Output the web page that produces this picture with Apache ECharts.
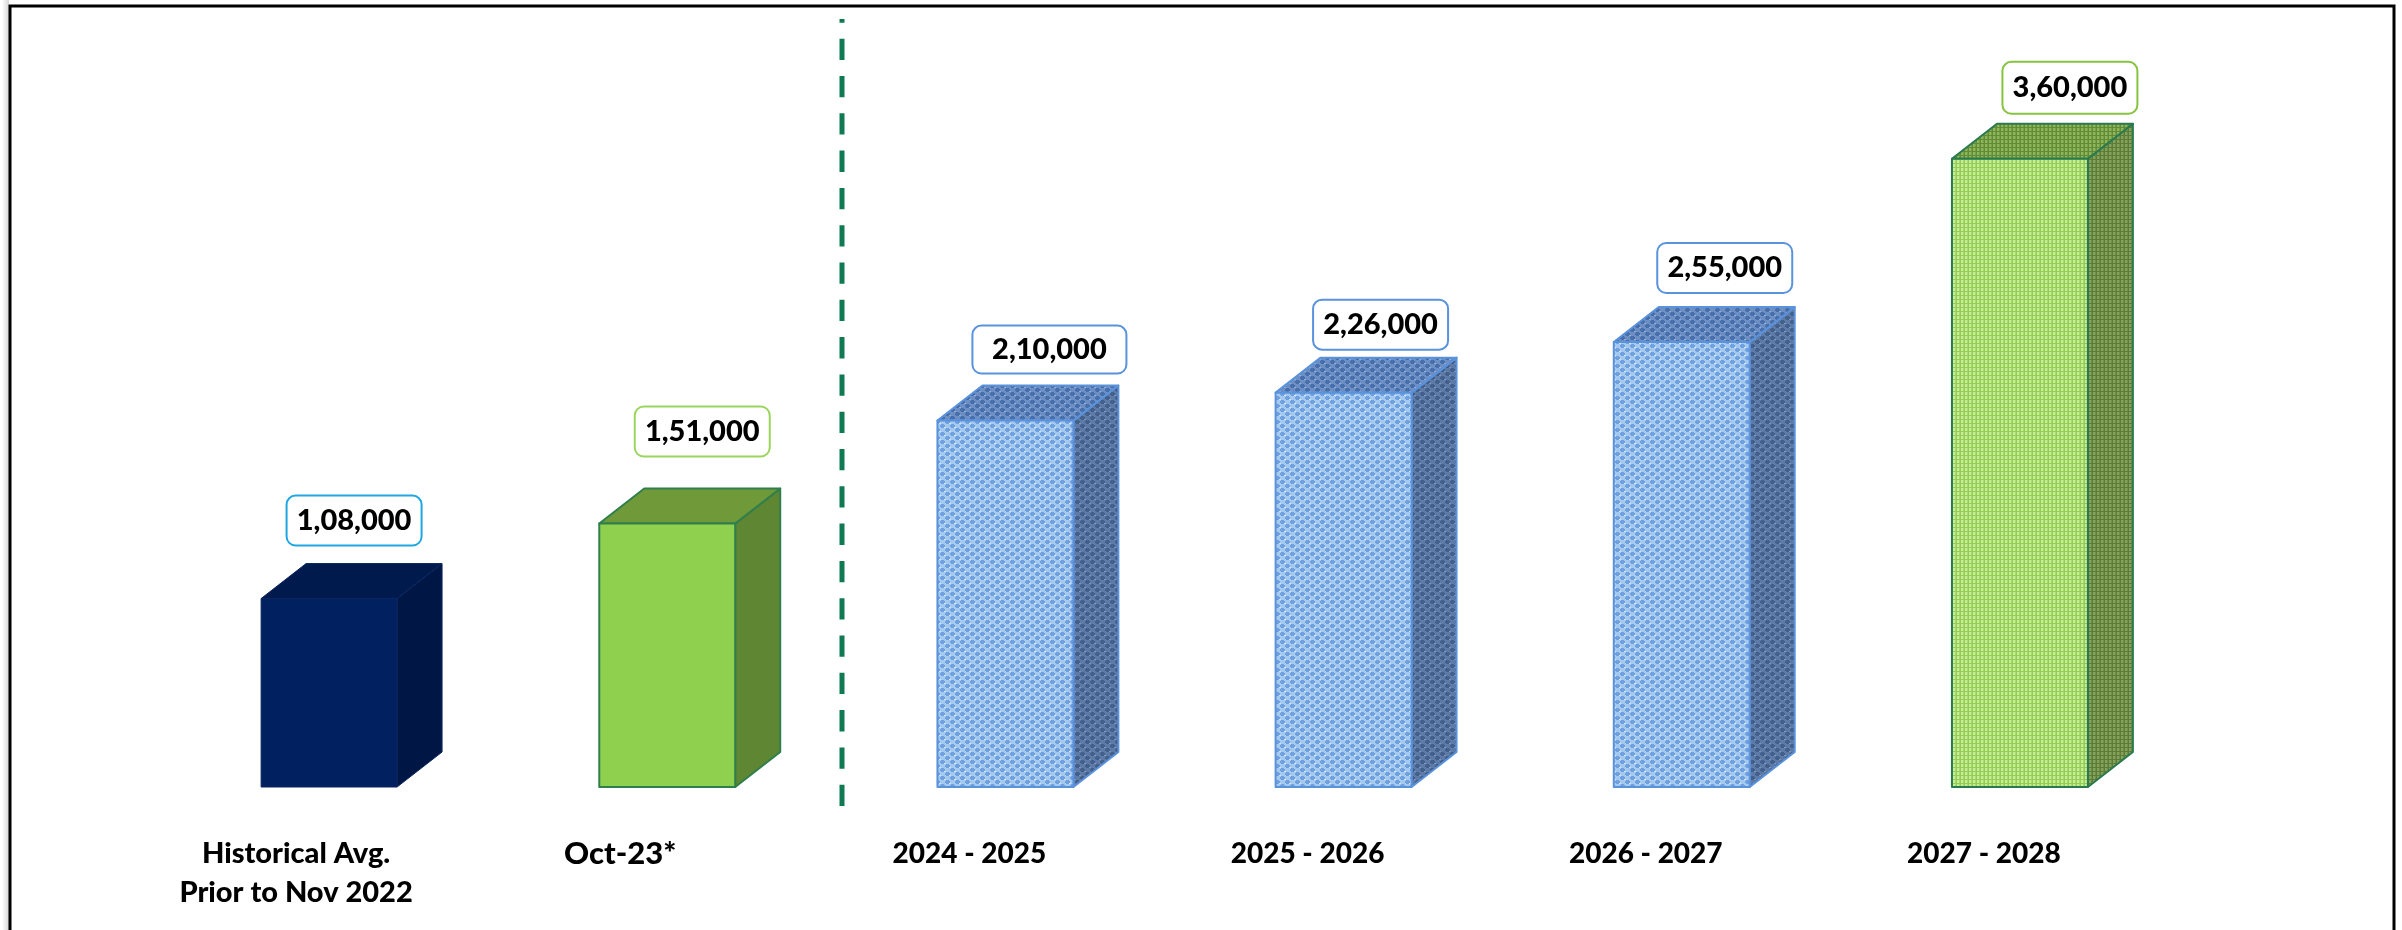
<!DOCTYPE html>
<html>
<head>
<meta charset="utf-8">
<style>html,body{margin:0;padding:0;background:#fff}#chart{width:2402px;height:930px}</style>
<script src="https://cdn.jsdelivr.net/npm/echarts@6/dist/echarts.min.js"></script>
</head>
<body>
<div id="chart"></div>
<script>
// Demand by period: first two bars are observed, the rest are projections.
const categories = ['Historical Avg.\nPrior to Nov 2022', 'Oct-23*', '2024 - 2025', '2025 - 2026', '2026 - 2027', '2027 - 2028'];
const values = [108000, 151000, 210000, 226000, 255000, 360000];

// Appearance of each bar: which face set it uses and its callout border.
const barLooks = ['navy', 'green', 'blueWeave', 'blueWeave', 'blueWeave', 'greenWeave'];
const calloutBorders = ['#1fa7e1', '#9ad65c', '#5a92dc', '#5a92dc', '#5a92dc', '#86c440'];
// Callout placement relative to the top centre of the bar's front face: [dx, dy, width, height].
const calloutLayout = [
  [25, -78, 135, 50], [35, -92, 135, 50], [44, -71, 154, 48],
  [37, -68, 135, 50], [43, -74, 135, 50], [50, -71, 135, 52]
];
// Horizontal nudge of each category caption from its band centre, and its type size.
const captionShift = [-33, -47, -36, -36, -36, -36];
const captionSize = [29, 31, 28, 28, 28, 28];

// Small repeating tile used as the woven fill of the forecast bars.
function weaveTile(base, dark, light, kind) {
  const c = document.createElement('canvas');
  c.width = kind === 'diamond' ? 10 : 4;
  c.height = 8;
  const g = c.getContext('2d');
  g.fillStyle = base;
  g.fillRect(0, 0, c.width, c.height);
  if (kind === 'diamond') {
    g.fillStyle = dark;
    [[0, 0], [5, 4]].forEach(p => {
      g.fillRect(p[0] + 1, p[1], 3, 1);
      g.fillRect(p[0], p[1] + 1, 5, 2);
      g.fillRect(p[0] + 1, p[1] + 3, 3, 1);
    });
    g.fillStyle = light;
    g.fillRect(4, 3, 2, 1);
    g.fillRect(9, 7, 1, 1);
    g.fillRect(0, 7, 1, 1);
  } else {
    g.fillStyle = light;
    g.fillRect(1, 0, 2, 3);
    g.fillRect(1, 4, 2, 3);
    g.fillStyle = dark;
    g.fillRect(0, 0, 1, 8);
    g.fillRect(0, 3, 4, 1);
    g.fillRect(0, 7, 4, 1);
  }
  return { image: c, repeat: 'repeat' };
}

const looks = {
  navy: { front: '#002060', top: '#001a4e', side: '#001644', stroke: '#0b2763', strokeWidth: 1 },
  green: { front: '#8fd14f', top: '#70993a', side: '#5f8632', stroke: '#2f7f4d', strokeWidth: 2 },
  blueWeave: {
    front: weaveTile('#a6c9ef', '#6fa0e0', '#d3e5f8', 'diamond'),
    top: weaveTile('#6d8fc3', '#476fac', '#93aed6', 'diamond'),
    side: weaveTile('#5d7ba6', '#435f8c', '#7d97bd', 'diamond'),
    stroke: '#5a92dc', strokeWidth: 2
  },
  greenWeave: {
    front: weaveTile('#a6dc68', '#94cc55', '#c9ec9c', 'stripe'),
    top: weaveTile('#75a043', '#628b35', '#8fb65c', 'stripe'),
    side: weaveTile('#6f8f47', '#5c7c38', '#84a25b', 'stripe'),
    stroke: '#2a7a50', strokeWidth: 2
  }
};

const FRONT_RATIO = 0.402;
const DEPTH_X = 45;
const DEPTH_Y = 35;

function groupedDigits(v) {
  return v.toLocaleString('en-IN');
}

function renderBox(params, api) {
  const i = api.value(0);
  const value = api.value(1);
  const centre = api.coord([i, value]);
  const base = api.coord([i, 0]);
  const w = api.size([1, 0])[0] * FRONT_RATIO;
  const x0 = centre[0] - w / 2, x1 = centre[0] + w / 2;
  const yTop = centre[1], yBase = base[1];
  const look = looks[barLooks[i]];
  const edge = { stroke: look.stroke, lineWidth: look.strokeWidth, lineJoin: 'round' };
  const [dx, dy, bw, bh] = calloutLayout[i];
  const cx = centre[0] + dx, cy = yTop + dy;
  return {
    type: 'group',
    children: [
      {
        type: 'polygon',
        shape: { points: [[x1, yTop], [x1 + DEPTH_X, yTop - DEPTH_Y], [x1 + DEPTH_X, yBase - DEPTH_Y], [x1, yBase]] },
        style: Object.assign({ fill: look.side }, edge)
      },
      {
        type: 'polygon',
        shape: { points: [[x0, yTop], [x0 + DEPTH_X, yTop - DEPTH_Y], [x1 + DEPTH_X, yTop - DEPTH_Y], [x1, yTop]] },
        style: Object.assign({ fill: look.top }, edge)
      },
      {
        type: 'rect',
        shape: { x: x0, y: yTop, width: w, height: yBase - yTop },
        style: Object.assign({ fill: look.front }, edge)
      },
      {
        type: 'rect',
        shape: { x: cx - bw / 2, y: cy - bh / 2, width: bw, height: bh, r: 9 },
        style: { fill: '#fff', stroke: calloutBorders[i], lineWidth: 2 }
      },
      {
        type: 'text',
        x: cx,
        y: cy,
        style: {
          text: groupedDigits(value),
          fill: '#000',
          font: '900 29px Lato',
          align: 'center',
          verticalAlign: 'middle'
        }
      }
    ]
  };
}

// One rich style per caption so each can sit at its own offset from the band centre.
const captionRich = {};
captionShift.forEach((s, i) => {
  captionRich['c' + i] = {
    fontFamily: 'Lato', fontWeight: 900, fontSize: captionSize[i], lineHeight: 39, color: '#000',
    padding: [0, -2 * s, 0, 0]
  };
});

const chart = echarts.init(document.getElementById('chart'), null, { renderer: 'canvas' });
chart.setOption({
  animation: false,
  backgroundColor: '#fff',
  grid: { left: 160, width: 2029, top: 89, height: 698 },
  xAxis: {
    type: 'category',
    data: categories,
    axisLine: { show: false },
    axisTick: { show: false },
    axisLabel: {
      interval: 0,
      margin: 47,
      verticalAlign: 'top',
      formatter: function (name, idx) {
        return name.split('\n').map(line => '{c' + idx + '|' + line + '}').join('\n');
      },
      rich: captionRich
    }
  },
  yAxis: { type: 'value', min: 0, max: 400000, show: false },
  series: [{
    type: 'custom',
    renderItem: renderBox,
    encode: { x: 0, y: 1 },
    data: values.map((v, i) => [i, v]),
    clip: false
  }],
  graphic: [
    // Page edge shading beside the frame.
    {
      type: 'rect', silent: true,
      shape: { x: 2, y: 0, width: 7, height: 930 },
      style: {
        fill: new echarts.graphic.LinearGradient(0, 0, 1, 0, [
          { offset: 0, color: '#ffffff' }, { offset: 1, color: '#d4d4d4' }
        ])
      }
    },
    // Frame runs along the top and both sides and stops at the page foot.
    {
      type: 'polyline', silent: true,
      shape: { points: [[10, 930], [10, 6], [2394, 6], [2394, 930]] },
      style: { stroke: '#000', lineWidth: 3, fill: null }
    },
    // Divider between observed and projected periods.
    {
      type: 'line', silent: true,
      shape: { x1: 842, y1: 806, x2: 842, y2: 19 },
      style: { stroke: '#0f7a52', lineWidth: 5, lineDash: [21.3, 16] }
    }
  ]
});
</script>
</body>
</html>
